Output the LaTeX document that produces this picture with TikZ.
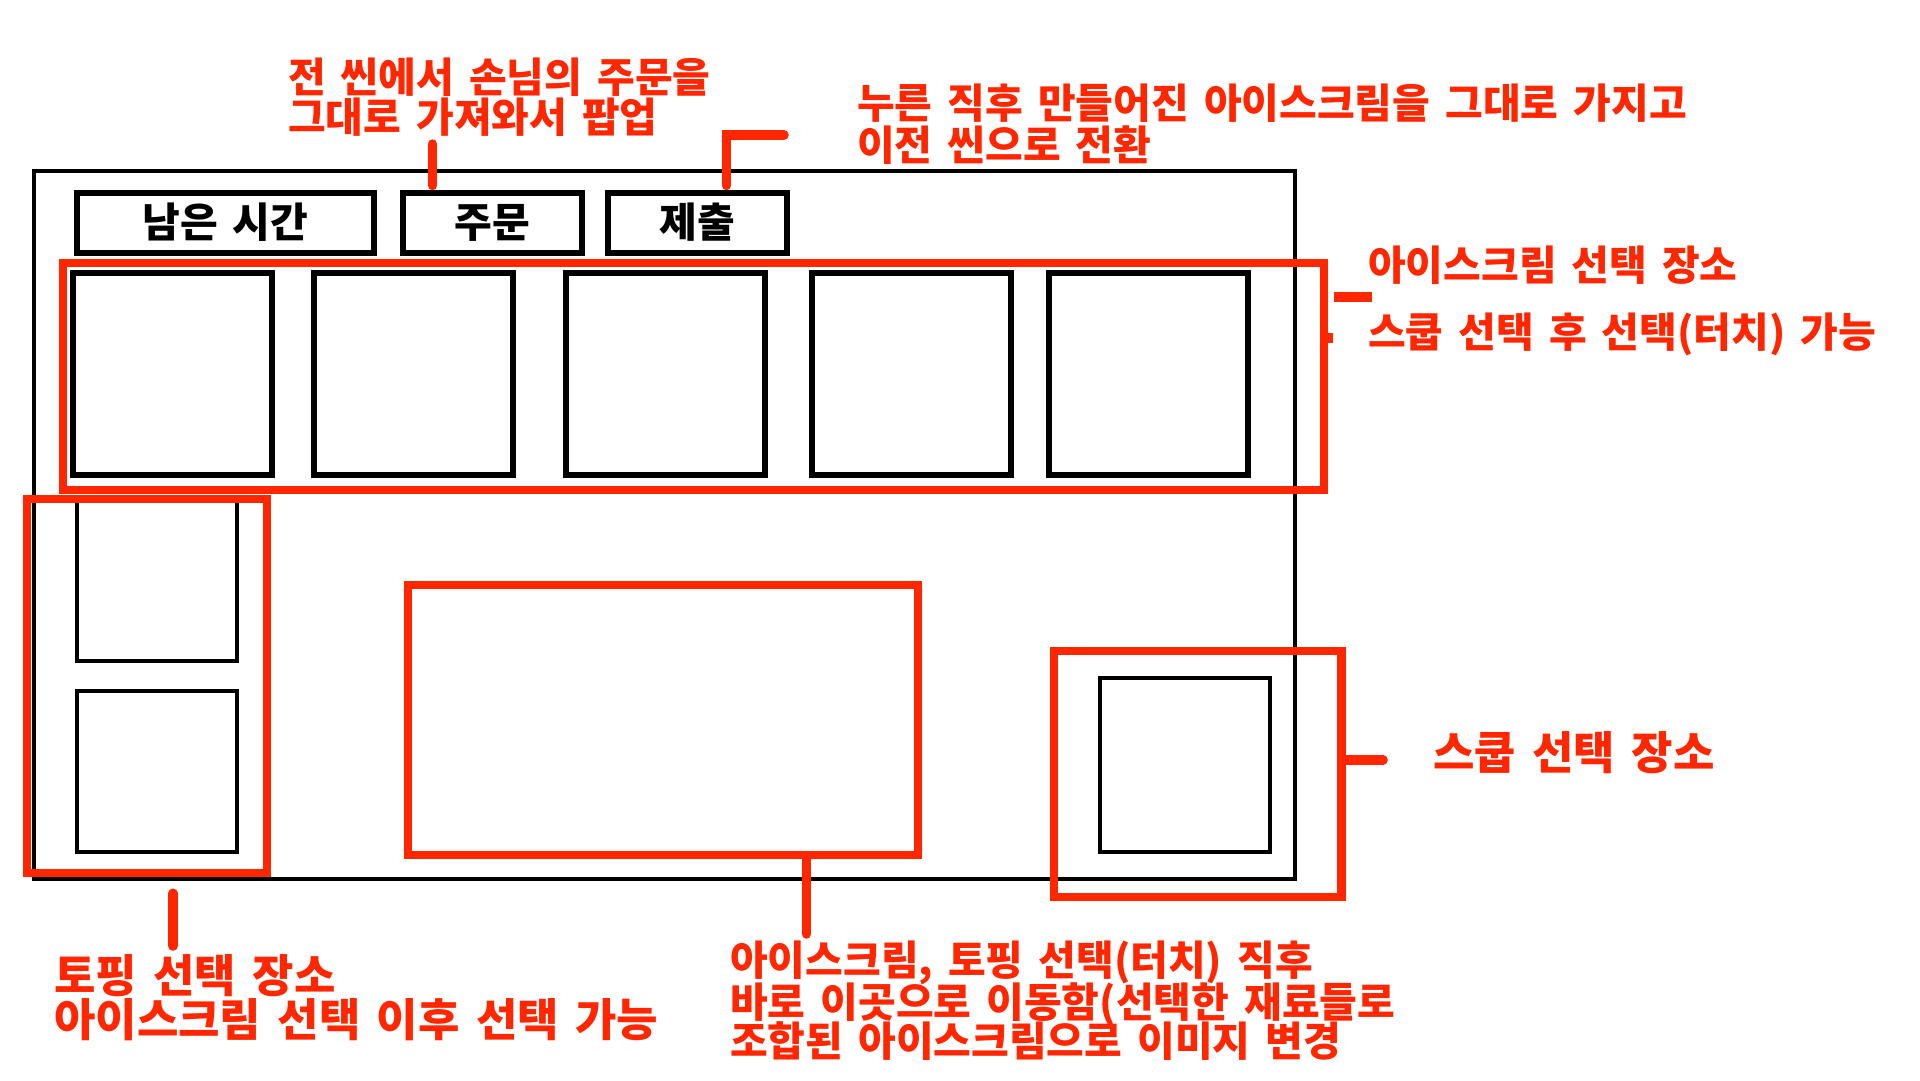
\documentclass[tikz,border=0pt]{standalone}
\usepackage{fontspec}
\newfontfamily\krfont{Noto Sans CJK KR}[BoldFont={Noto Sans CJK KR Black}, WordSpace=1.6]
\definecolor{annred}{RGB}{255,38,0}
\begin{document}
\begin{tikzpicture}[x=1pt,y=-1pt,
  frame/.style={draw=black, line width=4pt, inner sep=0pt},
  btnbox/.style={draw=black, line width=6pt, inner sep=0pt, minimum height=60.1pt,
     font=\krfont\bfseries\fontsize{41}{49}\selectfont},
  icebox/.style={draw=black, line width=6pt, inner sep=0pt, minimum width=199pt, minimum height=202.5pt},
  thinbox/.style={draw=black, line width=4pt, inner sep=0pt},
  redbox/.style={draw=annred, line width=8.5pt, inner sep=0pt},
  conn/.style={draw=annred, line width=9.5pt, line cap=round},
  redfill/.style={fill=annred, inner sep=0pt},
  lbl/.style={text=annred, anchor=base west, inner sep=0pt,
     font=\krfont\bfseries\fontsize{41}{49}\selectfont},
  lblbig/.style={lbl, font=\krfont\bfseries\fontsize{45}{53}\selectfont}]
\useasboundingbox[fill=white] (0,0) rectangle (1920,1080);

% main frame
\node[frame, minimum width=1261pt, minimum height=708pt] (screen) at (664.5,525) {};

% connector points above the buttons
\coordinate (c1top) at (432.5,144);
\coordinate (c2corner) at (726.5,135);
\coordinate (c2end) at (784,135);

% top buttons
\node[btnbox, minimum width=297.5pt] (timebox) at (225.25,222.55) {남은 시간};
\node[btnbox, minimum width=179pt] (order) at (492.5,222.55) {주문};
\node[btnbox, minimum width=179pt] (submit) at (697.5,222.55) {제출};

\draw[conn, shorten >=4pt] (c1top) -- (c1top |- order.north);
\draw[conn, line join=miter, shorten <=4pt] (c2corner |- submit.north) -- (c2corner) -- (c2end);

% ice cream boxes
\node[icebox] (ic1) at (172.25,373.75) {};
\node[icebox] (ic2) at (413.25,373.75) {};
\node[icebox] (ic3) at (665.75,373.75) {};
\node[icebox] (ic4) at (911.5,373.75) {};
\node[icebox] (ic5) at (1148.75,373.75) {};

% topping boxes
\node[thinbox, minimum width=160pt, minimum height=161pt] (topA) at (156.5,580.5) {};
\node[thinbox, minimum width=160pt, minimum height=161pt] (topB) at (156.5,771.5) {};

% scoop box
\node[thinbox, minimum width=170.4pt, minimum height=173.6pt] (scoop) at (1184.8,764.8) {};

% red areas
\node[redbox, minimum width=1261pt, minimum height=227pt] (icearea) at (693.5,376.5) {};
\node[redbox, minimum width=240pt, minimum height=374pt] (toparea) at (147,686) {};
\node[redbox, minimum width=510pt, minimum height=270pt] (preview) at (663,720) {};
\node[redbox, minimum width=287.5pt, minimum height=246pt] (scooparea) at (1197.75,774) {};

% ice cream area marks
\node[redfill, minimum width=38pt, minimum height=10pt] (icebar) at (1353,297) {};
\node[redfill, minimum width=5pt, minimum height=10pt] (icestub) at (1330.5,338) {};

% other connectors
\coordinate (c3end) at (806.5,934);
\draw[conn] (c3end |- preview.south) -- (c3end);
\coordinate (c4end) at (173,946);
\draw[conn, shorten <=16pt] (c4end |- toparea.south) -- (c4end);
\coordinate (c5end) at (1383,760);
\draw[conn] (c5end -| scooparea.east) -- (c5end);

% labels
\node[lbl] (t1a) at (288,92) {전 씬에서 손님의 주문을};
\node[lbl] (t1b) at (288,132) {그대로 가져와서 팝업};
\node[lbl] (t2a) at (857,118) {누른 직후 만들어진 아이스크림을 그대로 가지고};
\node[lbl] (t2b) at (857,160) {이전 씬으로 전환};
\node[lbl] (t3a) at (1368,280) {아이스크림 선택 장소};
\node[lbl] (t3b) at (1368,347) {스쿱 선택 후 선택(터치) 가능};
\node[lblbig] (t4) at (1433,769) {스쿱 선택 장소};
\node[lblbig] (t5a) at (54,992) {토핑 선택 장소};
\node[lblbig] (t5b) at (54,1036) {아이스크림 선택 이후 선택 가능};
\node[lbl] (t6a) at (730,975) {아이스크림, 토핑 선택(터치) 직후};
\node[lbl] (t6b) at (730,1017) {바로 이곳으로 이동함(선택한 재료들로};
\node[lbl] (t6c) at (730,1056) {조합된 아이스크림으로 이미지 변경};
\end{tikzpicture}
\end{document}
